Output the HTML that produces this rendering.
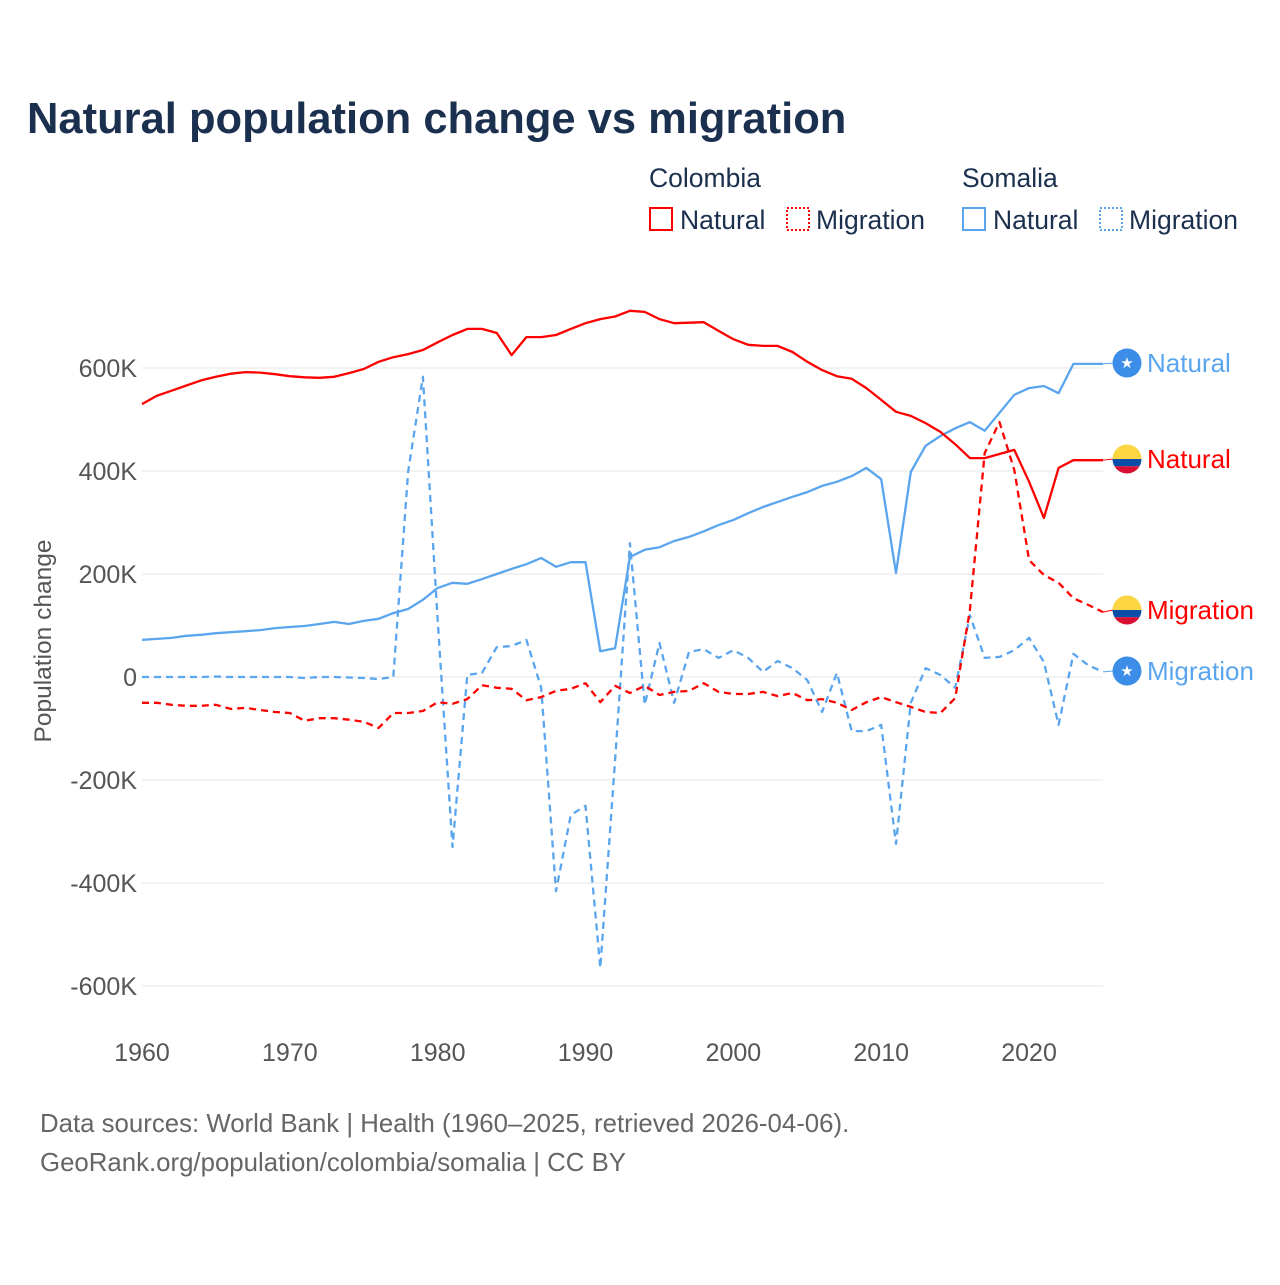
<!DOCTYPE html>
<html><head><meta charset="utf-8"><style>
body{margin:0;background:#fff;}
svg text{font-family:"Liberation Sans",sans-serif;}
</style></head><body>
<svg id="chart" width="1280" height="1280" xmlns="http://www.w3.org/2000/svg">
<rect width="1280" height="1280" fill="#fff"/>
<text x="27" y="133" font-size="43.5" font-weight="bold" fill="#1b2f4e">Natural population change vs migration</text>
<g font-size="26.5" fill="#1b2f4e">
<text x="649" y="187">Colombia</text>
<text x="962" y="187">Somalia</text>
<g><rect x="650" y="208" width="22" height="22" fill="none" stroke="#ff0000" stroke-width="2"/><text x="680" y="229">Natural</text></g>
<g><rect x="787" y="208" width="22" height="22" fill="none" stroke="#ff0000" stroke-width="2" stroke-dasharray="2 2"/><text x="816" y="229">Migration</text></g>
<g><rect x="963" y="208" width="22" height="22" fill="none" stroke="#5aa5ee" stroke-width="2"/><text x="993" y="229">Natural</text></g>
<g><rect x="1100" y="208" width="22" height="22" fill="none" stroke="#5aa5ee" stroke-width="2" stroke-dasharray="2 2"/><text x="1129" y="229">Migration</text></g>
</g>
<g id="grid"></g>
<g id="series"></g>
<g id="endlabels"></g>
<text transform="translate(51,641) rotate(-90)" text-anchor="middle" font-size="24.5" fill="#555">Population change</text>
<text x="40" y="1132" font-size="25.8" fill="#666">Data sources: World Bank | Health (1960–2025, retrieved 2026-04-06).</text>
<text x="40" y="1171" font-size="25.8" fill="#666">GeoRank.org/population/colombia/somalia | CC BY</text>
</svg>
<script>
const years = [];
for (let y = 1960; y <= 2025; y++) years.push(y);
const yTicks = [600, 400, 200, 0, -200, -400, -600];
const yTickLabels = ["600K","400K","200K","0","-200K","-400K","-600K"];
const xTicks = [1960,1970,1980,1990,2000,2010,2020];
const colombiaNatural = [530,546,556,566,576,583,589,592,591,588,584,582,581,583,590,598,612,621,627,635,650,664,676,676,668,625,660,660,664,676,687,695,700,711,709,695,687,688,689,672,656,645,643,643,631,612,596,584,579,561,538,515,507,493,476,452,425,425,433,441,379,309,406,421,421,421];
const colombiaMigration = [-50,-50,-54,-56,-56,-54,-62,-60,-64,-68,-70,-85,-80,-80,-83,-87,-99,-70,-70,-66,-49,-52,-43,-16,-21,-23,-45,-39,-27,-23,-12,-49,-17,-31,-17,-35,-29,-27,-12,-29,-33,-33,-29,-37,-31,-45,-43,-50,-64,-49,-39,-49,-58,-68,-70,-41,130,435,495,402,227,198,183,153,140,126];
const somaliaNatural = [72,74,76,80,82,85,87,89,91,95,97,99,103,107,103,109,113,124,132,150,173,183,181,190,200,210,219,231,214,223,223,50,56,233,247,252,264,272,283,295,305,318,330,340,350,359,371,379,390,406,384,202,398,449,468,483,495,478,513,548,561,565,551,608,608,608];
const somaliaMigration = [0,0,0,0,0,1,0,0,0,0,0,-2,0,0,-1,-2,-4,0,398,583,110,-330,4,8,58,60,72,-21,-416,-268,-250,-565,-161,260,-54,66,-50,49,54,37,52,37,10,31,17,-6,-68,8,-105,-105,-93,-324,-50,17,4,-21,120,37,39,52,76,29,-93,45,23,10];

const NS = "http://www.w3.org/2000/svg";
const X0 = 142, X1 = 1103, Y0 = 677, PXK = 0.515;
const xs = yr => X0 + (yr - 1960) * (X1 - X0) / 65;
const ys = v => Y0 - v * PXK;
function mk(tag, attrs, parent){const e=document.createElementNS(NS,tag);for(const k in attrs)e.setAttribute(k,attrs[k]);parent.appendChild(e);return e;}
const grid=document.getElementById('grid');
yTicks.forEach((t,i)=>{
  const l=mk('line',{x1:X0,x2:X1,y1:ys(t),y2:ys(t),stroke:'#e6e6e6','stroke-width':1},grid);
  
  
  const tx=mk('text',{x:137,y:ys(t)+9,'text-anchor':'end','font-size':25,fill:'#555'},grid);
  tx.textContent=yTickLabels[i];
  
  
});
xTicks.forEach(t=>{
  const tx=mk('text',{x:xs(t),y:1061,'text-anchor':'middle','font-size':25,fill:'#555'},grid);
  tx.textContent=t;
  
  
});
const ser=document.getElementById('series');
function line(data,color,dash,name){
  const d=data.map((v,i)=>(i?'L':'M')+xs(years[i]).toFixed(1)+','+ys(v).toFixed(1)).join('');
  const p=mk('path',{d:d,fill:'none',stroke:color,'stroke-width':2.3,'stroke-linejoin':'round'},ser);
  if(dash)p.setAttribute('stroke-dasharray','7 5');
  
  
}
line(somaliaNatural,'#5aa5ee',false,'somalia-natural-line');
line(somaliaMigration,'#5aa5ee',true,'somalia-migration-line');
line(colombiaNatural,'#ff0000',false,'colombia-natural-line');
line(colombiaMigration,'#ff0000',true,'colombia-migration-line');

const el=document.getElementById('endlabels');
function endLabel(v,ly,color,flag,text,name){
  const g=mk('g',{},el);
  
  
  mk('path',{d:`M${X1},${ys(v)}L1113,${ly}`,stroke:color,'stroke-width':1,fill:'none'},g);
  const cx=1127,r=14.5;
  if(flag==='co'){
    const id='c'+Math.round(ly);
    const cp=mk('clipPath',{id:id},g);mk('circle',{cx:cx,cy:ly,r:r},cp);
    const f=mk('g',{'clip-path':`url(#${id})`},g);
    mk('rect',{x:cx-r,y:ly-r,width:2*r,height:r,fill:'#fcd543'},f);
    mk('rect',{x:cx-r,y:ly,width:2*r,height:r/2,fill:'#0a4ea8'},f);
    mk('rect',{x:cx-r,y:ly+r/2,width:2*r,height:r/2,fill:'#d80e33'},f);
  } else {
    mk('circle',{cx:cx,cy:ly,r:r,fill:'#3b8de8'},g);
    const s=mk('text',{x:cx,y:ly+5,'text-anchor':'middle','font-size':15,fill:'#fff'},g);s.textContent='★';
  }
  const t=mk('text',{x:1147,y:ly+9,'font-size':26,fill:color},g);t.textContent=text;
}
endLabel(somaliaNatural[65],363,'#5aa5ee','so','Natural','end-label-somalia-natural');
endLabel(colombiaNatural[65],459,'#ff0000','co','Natural','end-label-colombia-natural');
endLabel(colombiaMigration[65],610,'#ff0000','co','Migration','end-label-colombia-migration');
endLabel(somaliaMigration[65],671,'#5aa5ee','so','Migration','end-label-somalia-migration');
</script>
</body></html>
